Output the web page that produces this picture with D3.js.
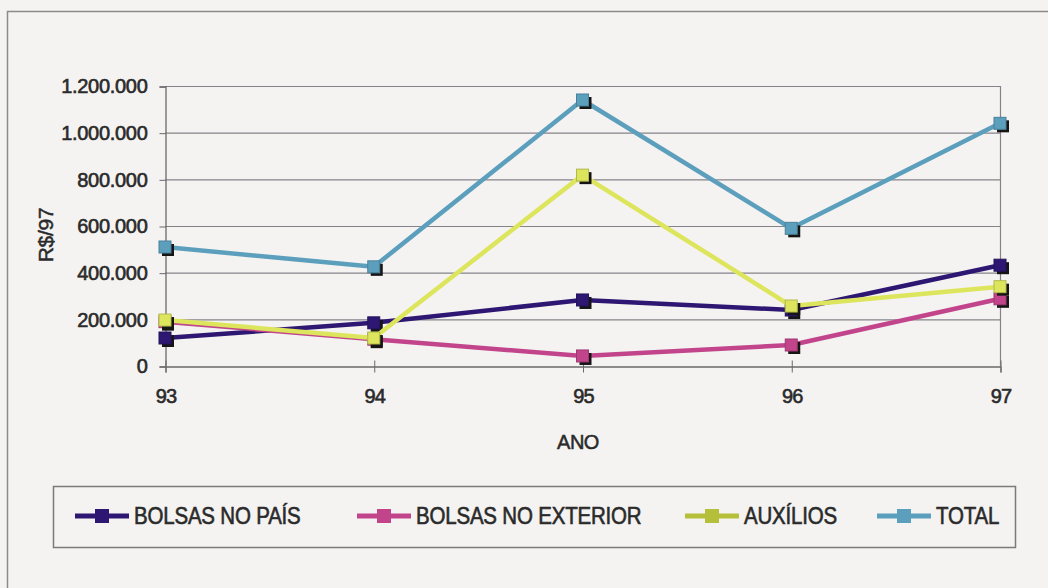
<!DOCTYPE html>
<html><head><meta charset="utf-8">
<script src="https://cdn.jsdelivr.net/npm/d3@7"></script>
<style>
html,body{margin:0;padding:0;background:#f4f3f1;}
svg{display:block;font-family:"Liberation Sans",Arial,sans-serif;}
</style></head>
<body>
<svg id="c" width="1048" height="588"></svg>
<script>
const years = ["93","94","95","96","97"];
const bolsasPais = [120000, 185000, 283000, 240000, 432000];
const bolsasExterior = [190000, 115000, 43000, 90000, 288000];
const auxilios = [197000, 120000, 818000, 257000, 340000];
const total = [510000, 425000, 1140000, 590000, 1040000];
const yTicks = [0, 200000, 400000, 600000, 800000, 1000000, 1200000];
const seriesNames = ["BOLSAS NO PAÍS", "BOLSAS NO EXTERIOR", "AUXÍLIOS", "TOTAL"];
const seriesValues = [bolsasPais, bolsasExterior, auxilios, total];
const seriesColors = ["#2d1772", "#c2458c", "#dde55c", "#5b9fbd"];
const legendColors = ["#2d1772", "#c2458c", "#b5bf3a", "#5b9fbd"];

const svg = d3.select("#c");
const W = 1048, H = 588;
const ink = "#2a2a2a";
svg.append("rect").attr("width", W).attr("height", H).attr("fill", "#f4f3f1");
// outer frame
svg.append("path").attr("d", `M7.5,${H} V11.5 H${W}`).attr("fill", "none")
  .attr("stroke", "#8a8a8a").attr("stroke-width", 1.5);

const L = 165, R = 1000, T = 86, B = 366;
const x = d3.scalePoint().domain(years).range([L, R]);
const y = d3.scaleLinear().domain([0, 1200000]).range([B, T]);
const loc = d3.formatLocale({decimal: ",", thousands: ".", grouping: [3], currency: ["R$", ""]});
const fmt = loc.format(",d");

// gridlines
svg.append("g").selectAll("line").data(yTicks.filter(d => d > 0)).join("line")
  .attr("x1", L).attr("x2", R).attr("y1", d => y(d) + 0.5).attr("y2", d => y(d) + 0.5)
  .attr("stroke", "#85838a").attr("stroke-width", 1.2);
// right border
svg.append("line").attr("x1", R + 0.5).attr("x2", R + 0.5).attr("y1", T).attr("y2", B)
  .attr("stroke", "#85838a").attr("stroke-width", 1.2);

function heavy(sel, sw) {
  sel.attr("fill", ink).attr("stroke", ink).attr("stroke-width", sw).attr("paint-order", "stroke");
}

// y axis
const yAxis = d3.axisLeft(y).tickValues(yTicks).tickFormat(fmt).tickSize(6).tickPadding(12);
const gy = svg.append("g").attr("transform", `translate(${L + 0.5},0.5)`).call(yAxis);
gy.select(".domain").attr("stroke", "#6a6a6a").attr("stroke-width", 1.3);
gy.selectAll(".tick line").attr("stroke", "#6a6a6a");
gy.selectAll("text").attr("font-size", 20)
  .attr("font-family", "Liberation Sans, Arial, sans-serif").attr("letter-spacing", -0.3)
  .call(heavy, 0.6);

// x axis
const xAxis = d3.axisBottom(x).tickSize(6).tickPadding(16);
const gx = svg.append("g").attr("transform", `translate(0.5,${B + 0.5})`).call(xAxis);
gx.select(".domain").attr("stroke", "#6a6a6a").attr("stroke-width", 1.3);
gx.selectAll(".tick line").attr("stroke", "#6a6a6a").attr("y1", -6);
gx.selectAll("text").attr("font-size", 20)
  .attr("font-family", "Liberation Sans, Arial, sans-serif").attr("letter-spacing", -0.8)
  .call(heavy, 0.6);

// axis titles
svg.append("text").attr("x", 578).attr("y", 449).attr("text-anchor", "middle")
  .attr("font-size", 20).attr("letter-spacing", -0.5).text("ANO").call(heavy, 0.5);
svg.append("text").attr("transform", "translate(53,235) rotate(-90)").attr("text-anchor", "middle")
  .attr("font-size", 21).attr("letter-spacing", -0.3).text("R$/97").call(heavy, 0.5);

// lines
const line = d3.line().x((d, i) => x(years[i])).y(d => y(d));
seriesValues.forEach((vals, si) => {
  const g = svg.append("g");
  g.append("path").attr("d", line(vals)).attr("fill", "none")
    .attr("stroke", seriesColors[si]).attr("stroke-width", 4.5).attr("stroke-linejoin", "round");
  const s = 12;
  g.selectAll("rect.sh").data(vals).join("rect").attr("class", "sh")
    .attr("x", (d, i) => x(years[i]) - s / 2 + 3).attr("y", d => y(d) - s / 2 + 3)
    .attr("width", s).attr("height", s).attr("fill", "#151515");
  g.selectAll("rect.mk").data(vals).join("rect").attr("class", "mk")
    .attr("x", (d, i) => x(years[i]) - s / 2).attr("y", d => y(d) - s / 2)
    .attr("width", s).attr("height", s).attr("fill", seriesColors[si])
    .attr("stroke", d3.color(seriesColors[si]).darker(0.6)).attr("stroke-width", 1);
});

// legend
svg.append("rect").attr("x", 53.5).attr("y", 486.5).attr("width", 962).attr("height", 61)
  .attr("fill", "none").attr("stroke", "#7a7a7a").attr("stroke-width", 1.5);
const legX = [75, 357, 685, 877];
const lg = svg.append("g").selectAll("g").data(seriesNames).join("g")
  .attr("transform", (d, i) => `translate(${legX[i]},516)`);
lg.append("line").attr("x1", 0).attr("x2", 54).attr("stroke", (d, i) => legendColors[i]).attr("stroke-width", 5);
lg.append("rect").attr("x", 20).attr("y", -7).attr("width", 14).attr("height", 14)
  .attr("fill", (d, i) => legendColors[i]);
lg.append("text").attr("transform", "translate(59,8) scale(0.89,1)")
  .attr("font-size", 23).attr("letter-spacing", -0.2).text(d => d).call(heavy, 0.6);
</script>
</body></html>
